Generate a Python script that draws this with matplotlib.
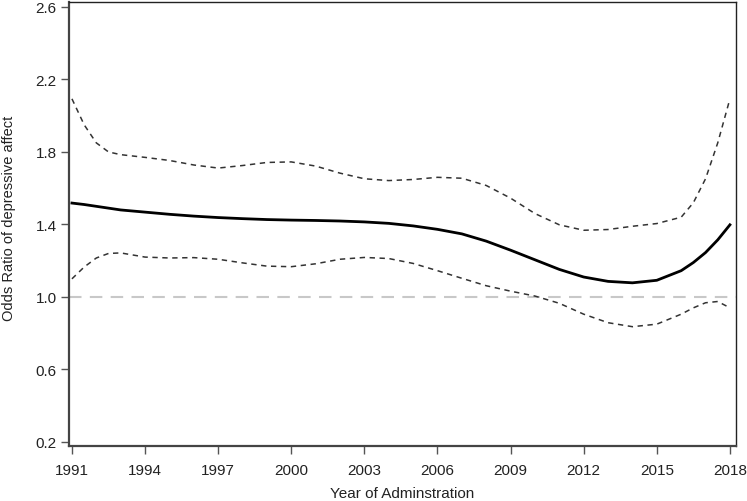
import numpy as np
import matplotlib.pyplot as plt

plt.rcParams['font.family'] = ['Liberation Sans', 'DejaVu Sans']

years = [1991, 1991.5, 1992, 1992.5, 1993, 1994, 1995, 1996, 1997, 1998, 1999,
         2000, 2001, 2002, 2003, 2004, 2005, 2006, 2007, 2008, 2009, 2010,
         2011, 2012, 2013, 2014, 2015, 2016, 2016.5, 2017, 2017.5, 2018]

odds_ratio = [1.518, 1.510, 1.500, 1.490, 1.480, 1.468, 1.456, 1.446, 1.438, 1.432, 1.427,
              1.424, 1.422, 1.419, 1.414, 1.406, 1.392, 1.373, 1.348, 1.308, 1.258, 1.205,
              1.152, 1.110, 1.086, 1.078, 1.092, 1.145, 1.190, 1.245, 1.315, 1.398]

upper_ci = [2.093, 1.95, 1.85, 1.80, 1.785, 1.770, 1.753, 1.728, 1.711, 1.725, 1.742,
            1.745, 1.722, 1.683, 1.652, 1.642, 1.648, 1.660, 1.655, 1.615, 1.545, 1.460,
            1.398, 1.368, 1.372, 1.390, 1.405, 1.440, 1.52, 1.652, 1.85, 2.093]

lower_ci = [1.10, 1.165, 1.215, 1.240, 1.243, 1.220, 1.215, 1.217, 1.208, 1.188, 1.170,
            1.167, 1.183, 1.208, 1.218, 1.212, 1.185, 1.145, 1.103, 1.062, 1.032, 1.005,
            0.965, 0.905, 0.858, 0.836, 0.850, 0.905, 0.94, 0.968, 0.975, 0.940]

xticks = [1991, 1994, 1997, 2000, 2003, 2006, 2009, 2012, 2015, 2018]
yticks = [0.2, 0.6, 1.0, 1.4, 1.8, 2.2, 2.6]

fig = plt.figure(figsize=(7.47, 5.02), dpi=100)
ax = fig.add_axes([0.0924, 0.1096, 0.8929, 0.8844])

# reference line at OR = 1
ax.axhline(1.0, color='#c8c8c8', lw=1.5, ls=(0, (6, 4)), zorder=1)
ax.plot(years, upper_ci, color='#333333', lw=1.1, ls=(0, (3.5, 3)))
ax.plot(years, lower_ci, color='#333333', lw=1.1, ls=(0, (3.5, 3)))
ax.plot(years, odds_ratio, color='black', lw=2.0)

ax.set_xlim(1990.88, 2018.25)
ax.set_ylim(0.178, 2.627)
ax.set_xticks(xticks)
ax.set_yticks(yticks)
ax.set_yticklabels(['%.1f' % v for v in yticks])

for side in ['left', 'bottom']:
    ax.spines[side].set_color('#444444')
    ax.spines[side].set_linewidth(1.6)
for side in ['top', 'right']:
    ax.spines[side].set_color('#222222')
    ax.spines[side].set_linewidth(1.0)

ax.tick_params(direction='out', length=6, width=1, color='#555555',
               labelsize=11, labelcolor='#222222')
ax.tick_params(axis='x', pad=6)
ax.tick_params(axis='y', pad=3)

ax.set_xlabel('Year of Adminstration', fontsize=11, color='#222222', labelpad=7)
ax.set_ylabel('Odds Ratio of depressive affect', fontsize=10.5, color='#222222')
ax.yaxis.set_label_coords(-0.08, 0.516)

fig.savefig('out.png', dpi=100)
